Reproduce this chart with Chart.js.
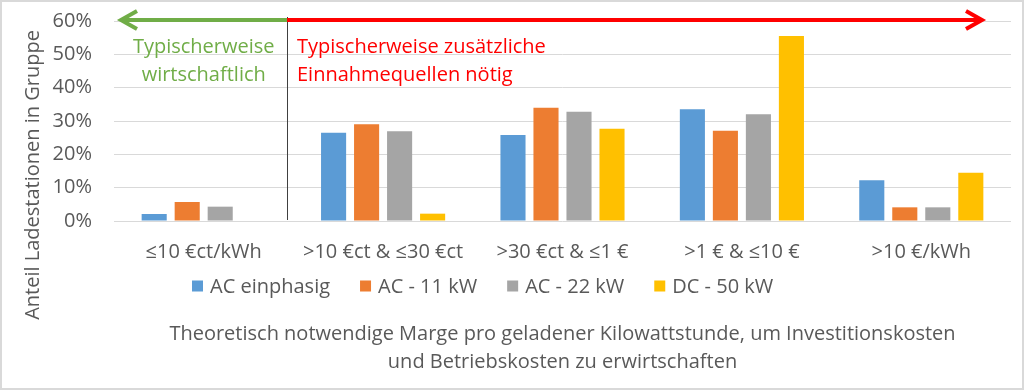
<!DOCTYPE html>
<html><head><meta charset="utf-8">
<script src="https://cdn.jsdelivr.net/npm/chart.js@4.4.1/dist/chart.umd.min.js"></script>
<style>html,body{margin:0;padding:0;background:#fff}</style>
</head><body><canvas id="chart" width="1024" height="391"></canvas>
<script>
/* global Chart */

const categories = ["≤10 €ct/kWh", ">10 €ct & ≤30 €ct", ">30 €ct & ≤1 €", ">1 € & ≤10 €", ">10 €/kWh"];
const seriesNames = ["AC einphasig", "AC - 11 kW", "AC - 22 kW", "DC - 50 kW"];
const acSingle = [0.021, 0.265, 0.258, 0.335, 0.122];
const ac11 = [0.057, 0.29, 0.34, 0.271, 0.041];
const ac22 = [0.043, 0.269, 0.328, 0.32, 0.041];
const dc50 = [0, 0.022, 0.277, 0.555, 0.145];
const yTicks = [0, 0.1, 0.2, 0.3, 0.4, 0.5, 0.6];
const xTitle = ["Theoretisch notwendige Marge pro geladener Kilowattstunde, um Investitionskosten", "und Betriebskosten zu erwirtschaften"];
const yTitle = "Anteil Ladestationen in Gruppe";
const greenNote = ["Typischerweise", "wirtschaftlich"];
const redNote = ["Typischerweise zusätzliche", "Einnahmequellen nötig"];

const colors = ["#5B9BD5", "#ED7D31", "#A5A5A5", "#FFC000"];
const FONT = "'Open Sans', sans-serif";
const TEXT = "#595959";

function arrowHead(ctx, x, y, dir) {
  ctx.beginPath();
  ctx.moveTo(x - dir * 16, y - 9);
  ctx.lineTo(x, y);
  ctx.lineTo(x - dir * 16, y + 9);
  ctx.stroke();
}

const decor = {
  id: "decor",
  beforeDraw(chart) {
    const ctx = chart.ctx;
    ctx.save();
    ctx.fillStyle = "#fff";
    ctx.fillRect(0, 0, chart.width, chart.height);
    ctx.restore();
  },
  afterDraw(chart) {
    const ctx = chart.ctx;
    const y = chart.scales.y;
    const x = chart.scales.x;
    ctx.save();

    // frame
    ctx.strokeStyle = "#d9d9d9";
    ctx.lineWidth = 2;
    ctx.strokeRect(1, 1, chart.width - 2, chart.height - 3);

    // y title
    ctx.fillStyle = TEXT;
    ctx.font = "20px " + FONT;
    ctx.textAlign = "center";
    ctx.textBaseline = "middle";
    ctx.save();
    ctx.translate(33, 175);
    ctx.rotate(-Math.PI / 2);
    ctx.fillText(yTitle, 0, 0);
    ctx.restore();

    // legend
    let lx = 192;
    const ly = 286;
    ctx.textAlign = "left";
    seriesNames.forEach((name, i) => {
      ctx.fillStyle = colors[i];
      ctx.fillRect(lx, ly - 5.5, 11, 11);
      ctx.fillStyle = TEXT;
      ctx.fillText(name, lx + 18, ly + 1);
      lx += 18 + ctx.measureText(name).width + 30;
    });

    // divider between the two zones (sits a bit left of the category boundary)
    const split = Math.round((x.getPixelForValue(0) + x.getPixelForValue(1)) / 2) - 6;
    const top = y.getPixelForValue(0.6);
    ctx.strokeStyle = "#404040";
    ctx.lineWidth = 1;
    ctx.beginPath();
    ctx.moveTo(split + 0.5, top - 4);
    ctx.lineTo(split + 0.5, y.getPixelForValue(0) - 1);
    ctx.stroke();

    // arrows
    const ay = top - 1;
    ctx.lineWidth = 4;
    ctx.lineCap = "butt";
    ctx.strokeStyle = "#70AD47";
    ctx.beginPath();
    ctx.moveTo(split, ay);
    ctx.lineTo(x.left + 7, ay);
    ctx.stroke();
    arrowHead(ctx, x.left + 7, ay, -1);

    ctx.strokeStyle = "#FF0000";
    ctx.beginPath();
    ctx.moveTo(split, ay);
    ctx.lineTo(982, ay);
    ctx.stroke();
    arrowHead(ctx, 982, ay, 1);

    // notes
    ctx.font = "20px " + FONT;
    ctx.fillStyle = "#70AD47";
    ctx.textAlign = "center";
    greenNote.forEach((t, i) => ctx.fillText(t, x.getPixelForValue(0), 47 + i * 28));
    ctx.fillStyle = "#FF0000";
    ctx.textAlign = "left";
    redNote.forEach((t, i) => ctx.fillText(t, split + 10, 47 + i * 28));

    ctx.restore();
  },
};

const series = [acSingle, ac11, ac22, dc50];

new Chart(document.getElementById("chart"), {
  type: "bar",
  data: {
    labels: categories,
    datasets: series.map((d, i) => ({
      label: seriesNames[i],
      data: d,
      backgroundColor: colors[i],
      categoryPercentage: 0.736,
      barPercentage: 0.76,
    })),
  },
  options: {
    responsive: false,
    animation: false,
    layout: { padding: { left: 10, right: 13, top: 21, bottom: 0 } },
    plugins: { legend: { display: false }, tooltip: { enabled: false } },
    scales: {
      y: {
        min: 0,
        max: 0.6,
        afterBuildTicks: (s) => { s.ticks = yTicks.map((v) => ({ value: v })); },
        afterFit: (s) => {
          s.width = 104;
          s.paddingTop = 0;
          s.paddingBottom = 0;
        },
        ticks: {
          padding: 22,
          color: TEXT,
          font: { family: FONT, size: 20 },
          callback: (v) => Math.round(v * 100) + "%",
        },
        grid: { color: "#d9d9d9", drawTicks: false },
        border: { display: false },
      },
      x: {
        afterFit: (s) => { s.height = 170; },
        ticks: { padding: 19, color: TEXT, font: { family: FONT, size: 20 }, maxRotation: 0, autoSkip: false },
        grid: { display: false, drawTicks: false },
        border: { display: false },
        title: {
          display: true,
          text: xTitle,
          color: TEXT,
          font: { family: FONT, size: 20, lineHeight: 1.4 },
          padding: { top: 0, bottom: 15 },
        },
      },
    },
  },
  plugins: [decor],
});
</script></body></html>
